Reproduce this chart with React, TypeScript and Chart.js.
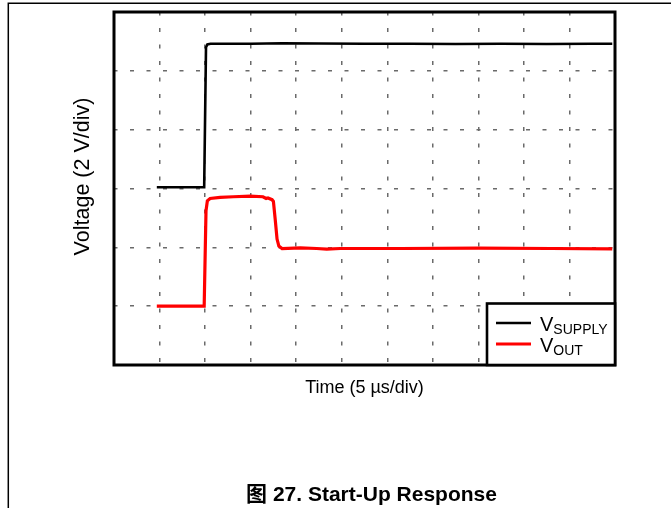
import React, { useEffect, useRef } from "react";
import { Chart, registerables } from "chart.js";

Chart.register(...registerables);

// Time in divisions (5 µs/div), voltage in divisions (2 V/div)
const supplyT = [0.94, 1.98, 2.02, 2.05, 2.12, 3.0, 3.7, 4.5, 5.5, 6.5, 7.5, 8.5, 9.5, 10.5, 10.94];
const supplyV = [3.02, 3.02, 5.4, 5.45, 5.46, 5.46, 5.47, 5.465, 5.46, 5.46, 5.455, 5.46, 5.455, 5.46, 5.46];

const outT = [0.94, 1.98, 2.02, 2.05, 2.11, 2.33, 2.62, 2.99, 3.27, 3.34, 3.38, 3.47, 3.5, 3.54, 3.58, 3.62, 3.69, 4.09, 4.45, 4.67, 4.97, 6.3, 8.0, 9.6, 10.94];
const outV = [1.0, 1.0, 2.62, 2.79, 2.83, 2.85, 2.86, 2.87, 2.86, 2.83, 2.84, 2.81, 2.78, 2.47, 2.14, 2.02, 1.98, 1.99, 1.98, 1.97, 1.98, 1.98, 1.985, 1.98, 1.975];

const xDivs = 11;
const yDivs = 6;

const xTitle = "Time (5 µs/div)";
const yTitle = "Voltage (2 V/div)";
const caption = "图 27. Start-Up Response";
const legendItems = [
  { main: "V", sub: "SUPPLY", color: "#000000" },
  { main: "V", sub: "OUT", color: "#ff0000" },
];

const FONT = "'Liberation Sans', Arial, 'Noto Sans CJK SC', sans-serif";

const decor = {
  id: "decor",
  beforeDraw(chart: any) {
    const { ctx } = chart;
    ctx.save();
    ctx.fillStyle = "#ffffff";
    ctx.fillRect(0, 0, chart.width, chart.height);
    ctx.strokeStyle = "#000";
    ctx.lineWidth = 1.5;
    ctx.beginPath();
    ctx.moveTo(8.3, chart.height);
    ctx.lineTo(8.3, 3.3);
    ctx.lineTo(chart.width, 3.3);
    ctx.stroke();
    ctx.restore();
  },
  afterDatasetsDraw(chart: any) {
    const { ctx, chartArea } = chart;
    const { left, top, right, bottom } = chartArea;
    ctx.save();
    // plot frame
    ctx.strokeStyle = "#000";
    ctx.lineWidth = 3;
    ctx.strokeRect(left, top, right - left, bottom - top);
    // legend box
    const lw = 128;
    const lh = 61.5;
    const lx = right - lw;
    const ly = bottom - lh;
    ctx.fillStyle = "#fff";
    ctx.fillRect(lx, ly, lw, lh);
    ctx.lineWidth = 2.6;
    ctx.strokeRect(lx, ly, lw, lh);
    legendItems.forEach((it, i) => {
      const cy = ly + 19.5 + i * 21;
      ctx.strokeStyle = it.color;
      ctx.lineWidth = i === 0 ? 2.6 : 3;
      ctx.beginPath();
      ctx.moveTo(lx + 9, cy);
      ctx.lineTo(lx + 44, cy);
      ctx.stroke();
      ctx.fillStyle = "#000";
      ctx.textBaseline = "alphabetic";
      ctx.textAlign = "left";
      ctx.font = `20px ${FONT}`;
      const tx = lx + 53;
      ctx.fillText(it.main, tx, cy + 8);
      const w = ctx.measureText(it.main).width;
      ctx.font = `14px ${FONT}`;
      ctx.fillText(it.sub, tx + w, cy + 10.5);
    });
    ctx.restore();
  },
  afterDraw(chart: any) {
    const { ctx } = chart;
    ctx.save();
    ctx.fillStyle = "#000";
    // y axis title
    ctx.font = `21.5px ${FONT}`;
    ctx.textAlign = "center";
    ctx.textBaseline = "alphabetic";
    ctx.translate(89, 176.5);
    ctx.rotate(-Math.PI / 2);
    ctx.fillText(yTitle, 0, 0);
    ctx.restore();
    ctx.save();
    ctx.fillStyle = "#000";
    ctx.font = `bold 21px ${FONT}`;
    ctx.textAlign = "center";
    ctx.textBaseline = "alphabetic";
    ctx.fillText(caption, 371.5, 500.7);
    ctx.restore();
  },
};

export default function App() {
  const ref = useRef<HTMLCanvasElement>(null);
  useEffect(() => {
    const chart = new Chart(ref.current as HTMLCanvasElement, {
      type: "line",
      data: {
        datasets: [
          {
            label: "VSUPPLY",
            data: supplyT.map((t, i) => ({ x: t, y: supplyV[i] })),
            borderColor: "#000000",
            borderWidth: 2.6,
            pointRadius: 0,
            tension: 0,
            fill: false,
          },
          {
            label: "VOUT",
            data: outT.map((t, i) => ({ x: t, y: outV[i] })),
            borderColor: "#ff0000",
            borderWidth: 3.2,
            pointRadius: 0,
            tension: 0,
            fill: false,
          },
        ],
      },
      options: {
        animation: false,
        responsive: false,
        maintainAspectRatio: false,
        layout: { padding: { left: 114, right: 56, top: 12, bottom: 111 } },
        plugins: {
          legend: { display: false },
          tooltip: { enabled: false },
          title: { display: false },
        },
        scales: {
          x: {
            type: "linear",
            min: 0,
            max: xDivs,
            ticks: { display: false, stepSize: 1 },
            grid: { drawTicks: false, color: "#6a6a6a", lineWidth: 1.5 },
            border: { display: false, dash: [4, 12.5], dashOffset: 0.5 },
            title: {
              display: true,
              text: xTitle,
              color: "#000",
              font: { family: FONT, size: 18, lineHeight: 1 },
              padding: { top: 14, bottom: 0 },
            },
          },
          y: {
            type: "linear",
            min: 0,
            max: yDivs,
            ticks: { display: false, stepSize: 1 },
            grid: { drawTicks: false, color: "#6a6a6a", lineWidth: 1.5 },
            border: { display: false, dash: [4, 12.5], dashOffset: 0.5 },
            title: { display: false, text: yTitle },
          },
        },
      },
      plugins: [decor],
    } as any);
    return () => chart.destroy();
  }, []);
  return (
    <div style={{ position: "fixed", left: 0, top: 0, width: 671, height: 508, background: "#fff" }}>
      <canvas ref={ref} width={671} height={508} style={{ display: "block" }} />
    </div>
  );
}
